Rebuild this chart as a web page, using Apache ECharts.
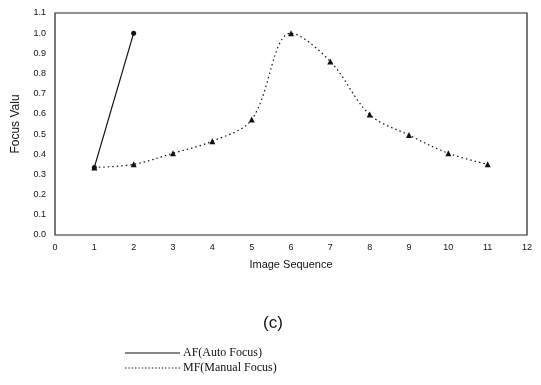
<!DOCTYPE html>
<html><head><meta charset="utf-8">
<script src="https://cdn.jsdelivr.net/npm/echarts@6/dist/echarts.min.js"></script>
<style>html,body{margin:0;padding:0;background:#fff}#c{width:541px;height:385px}</style>
</head><body><div id="c"></div>
<script>
const afX = [1, 2];
const afY = [0.335, 1.0];
const mfX = [1, 2, 3, 4, 5, 6, 7, 8, 9, 10, 11];
const mfY = [0.335, 0.35, 0.405, 0.465, 0.572, 1.0, 0.86, 0.597, 0.495, 0.405, 0.35];
const afName = 'AF(Auto Focus)';
const mfName = 'MF(Manual Focus)';

const chart = echarts.init(document.getElementById('c'), null, {renderer: 'canvas'});
const dots = [];
for (let i = 0; i < 100; i += 6) dots.push('M' + i + ',0H' + (i + 2.5) + 'V2H' + i + 'Z');
chart.setOption({
  animation: false,
  backgroundColor: '#fff',
  grid: {left: 55, right: 14, top: 13, bottom: 150, show: true, borderColor: '#222', borderWidth: 1.2},
  title: {text: '(c)', left: 258, top: 310, textStyle: {fontFamily: 'Liberation Sans', fontSize: 17, fontWeight: 'normal', color: '#111'}},
  legend: {
    orient: 'vertical', left: 120, top: 342, itemGap: 3, itemWidth: 55, itemHeight: 1.5,
    textStyle: {fontFamily: 'Liberation Serif', fontSize: 12, color: '#111', padding: [0, 0, 0, -2]},
    data: [
      {name: afName, icon: 'path://M0,0H100V2H0Z'},
      {name: mfName, icon: 'path://' + dots.join('')}
    ]
  },
  xAxis: {
    type: 'value', min: 0, max: 12, interval: 1,
    name: 'Image Sequence', nameLocation: 'middle', nameGap: 24,
    nameTextStyle: {fontFamily: 'Liberation Sans', fontSize: 11, color: '#111'},
    axisLine: {show: false}, axisTick: {show: false}, splitLine: {show: false},
    axisLabel: {fontFamily: 'Liberation Sans', fontSize: 9, color: '#111', margin: 8}
  },
  yAxis: {
    type: 'value', min: 0, max: 1.1, interval: 0.1,
    name: 'Focus Valu', nameLocation: 'middle', nameGap: 33,
    nameTextStyle: {fontFamily: 'Liberation Sans', fontSize: 12, color: '#111'},
    axisLine: {show: false}, axisTick: {show: false}, splitLine: {show: false},
    axisLabel: {fontFamily: 'Liberation Sans', fontSize: 9, color: '#111', margin: 9,
      formatter: v => v.toFixed(1)}
  },
  series: [
    {
      name: afName, type: 'line', data: afX.map((x, i) => [x, afY[i]]),
      symbol: 'circle', symbolSize: 5, color: '#111',
      lineStyle: {color: '#111', width: 1.2}, itemStyle: {color: '#111'}
    },
    {
      name: mfName, type: 'line', data: mfX.map((x, i) => [x, mfY[i]]),
      symbol: 'triangle', symbolSize: 6, smooth: 0.35, color: '#111',
      lineStyle: {color: '#111', width: 1.2, type: [1.5, 3]}, itemStyle: {color: '#111'}
    }
  ]
});
</script></body></html>
